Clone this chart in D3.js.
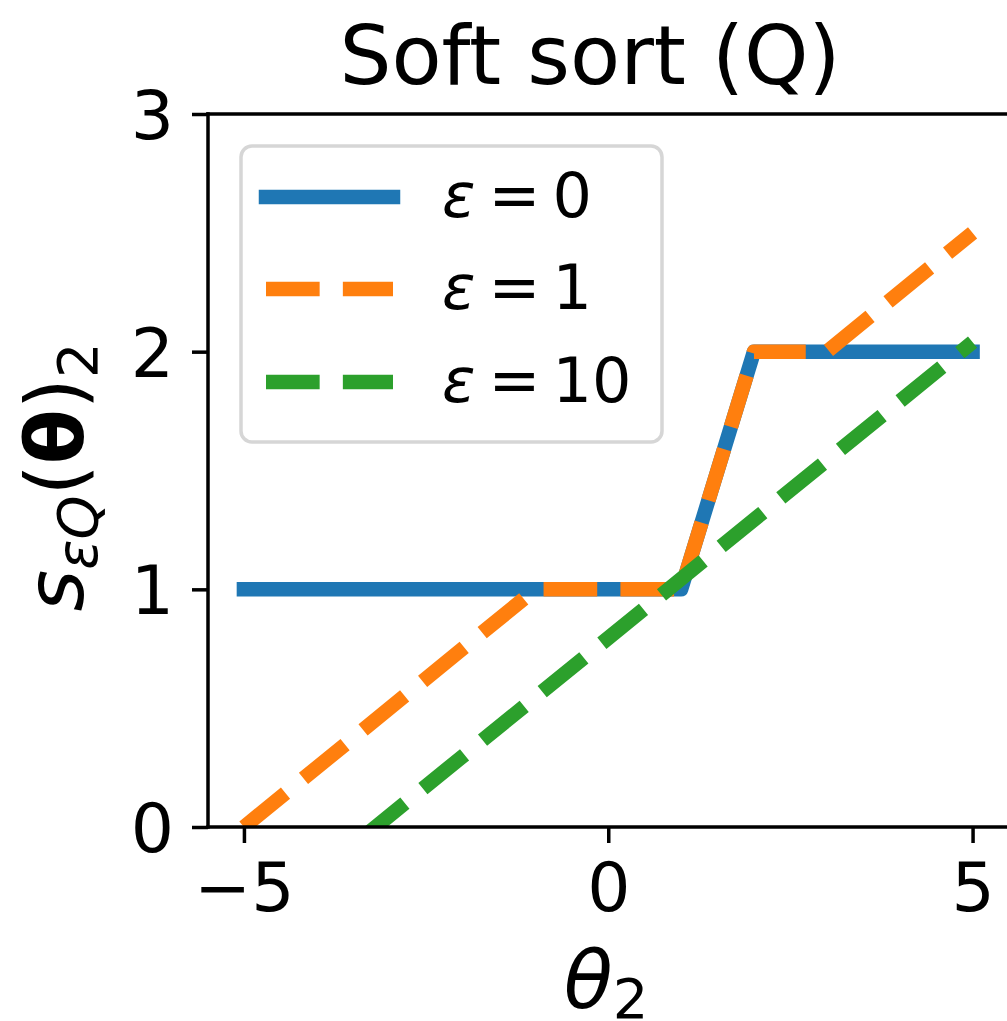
<!DOCTYPE html>
<html>
<head>
    <title>Soft sort (Q)</title>
    <script src="https://d3js.org/d3.v7.min.js"></script>
    <style>
        body {
            margin: 0;
            padding: 0;
            background: white;
        }
        svg text {
            font-family: "DejaVu Sans", sans-serif;
            fill: black;
        }
        .tick line {
            stroke: black;
            stroke-width: 3.5;
        }
        .tick text {
            font-size: 68px;
        }
        .spine {
            stroke: black;
            stroke-width: 3.5;
            stroke-linecap: square;
        }
    </style>
</head>
<body>
    <svg id="chart" width="1007" height="1021"></svg>
    <script>
        // tick values
        const xTicks = [-5, 0, 5];
        const yTicks = [0, 1, 2, 3];

        // series: regularisation strength and the curve
        const epsValues = [0, 1, 10];
        const colors = ['#1f77b4', '#ff7f0e', '#2ca02c'];
        const dashed = [false, true, true];

        const theta0 = [-5, 1, 2, 5];
        const s0 = [1, 1, 2, 2];
        const theta1 = [-5, -1, 1, 2, 3, 5];
        const s1 = [0, 1, 1, 2, 2, 2.5];
        const theta10 = [-5, 5];
        const s10 = [-0.45, 2.04];

        const series = [
            theta0.map((t, i) => [t, s0[i]]),
            theta1.map((t, i) => [t, s1[i]]),
            theta10.map((t, i) => [t, s10[i]])
        ];

        const svg = d3.select('#chart');
        const axL = 208, axR = 1009, axT = 114, axB = 827;
        const lw = 14.5;

        const x = d3.scaleLinear().domain([-5.5, 5.5]).range([axL - 0.5, axR]);
        const y = d3.scaleLinear().domain([0, 3]).range([axB, axT]);

        svg.append('clipPath').attr('id', 'plotArea')
            .append('rect')
            .attr('x', axL).attr('y', axT)
            .attr('width', axR - axL).attr('height', axB - axT);

        // lines
        const line = d3.line().x(d => x(d[0])).y(d => y(d[1]));
        const lines = svg.append('g').attr('clip-path', 'url(#plotArea)');
        series.forEach((data, i) => {
            lines.append('path')
                .datum(data)
                .attr('d', line)
                .attr('fill', 'none')
                .attr('stroke', colors[i])
                .attr('stroke-width', lw)
                .attr('stroke-linejoin', 'round')
                .attr('stroke-linecap', dashed[i] ? 'butt' : 'square')
                .attr('stroke-dasharray', dashed[i] ? `${3.7 * lw} ${1.6 * lw}` : null);
        });

        // axes
        const xAxis = svg.append('g')
            .attr('transform', `translate(0,${axB})`)
            .call(d3.axisBottom(x).tickValues(xTicks).tickSize(16).tickPadding(20).tickFormat(d3.format('d')));
        xAxis.select('.domain').remove();

        const yAxis = svg.append('g')
            .attr('transform', `translate(${axL},0)`)
            .call(d3.axisLeft(y).tickValues(yTicks).tickSize(16).tickPadding(18).tickFormat(d3.format('d')));
        yAxis.select('.domain').remove();
        yAxis.selectAll('.tick text').attr('dy', '0.36em');

        // spines (right one falls outside the picture)
        svg.append('line').attr('class', 'spine')
            .attr('x1', axL).attr('x2', axL).attr('y1', axT).attr('y2', axB);
        svg.append('line').attr('class', 'spine')
            .attr('x1', axL).attr('x2', axR).attr('y1', axB).attr('y2', axB);
        svg.append('line').attr('class', 'spine')
            .attr('x1', axL).attr('x2', axR).attr('y1', axT).attr('y2', axT);

        // title
        svg.append('text')
            .attr('x', 590)
            .attr('y', 84)
            .attr('text-anchor', 'middle')
            .style('font-size', '82px')
            .text('Soft sort (Q)');

        // x label: theta_2
        const xl = svg.append('text')
            .attr('x', 606)
            .attr('y', 1008)
            .attr('text-anchor', 'middle')
            .style('font-size', '80px');
        xl.append('tspan').style('font-style', 'italic').text('θ');
        xl.append('tspan').attr('dy', 10).style('font-size', '56px').text('2');

        // y label: s_{eps Q}(theta)_2
        const yl = svg.append('text')
            .attr('transform', 'translate(83,477) rotate(-90)')
            .attr('text-anchor', 'middle')
            .style('font-size', '80px');
        yl.append('tspan').style('font-style', 'italic').text('s');
        yl.append('tspan').attr('dy', 14).style('font-size', '56px').style('font-style', 'italic').text('εQ');
        yl.append('tspan').attr('dy', -14).text('(');
        yl.append('tspan').style('font-weight', 'bold').text('θ');
        yl.append('tspan').text(')');
        yl.append('tspan').attr('dy', 14).style('font-size', '56px').text('2');

        // legend
        const legend = svg.append('g');
        legend.append('rect')
            .attr('x', 241).attr('y', 146)
            .attr('width', 421).attr('height', 296)
            .attr('rx', 11)
            .attr('fill', 'white')
            .attr('fill-opacity', 0.8)
            .attr('stroke', '#d6d6d6')
            .attr('stroke-width', 3.5);

        const rowY = [197, 289, 382];
        epsValues.forEach((e, i) => {
            legend.append('line')
                .attr('x1', 266).attr('x2', 393)
                .attr('y1', rowY[i]).attr('y2', rowY[i])
                .attr('stroke', colors[i])
                .attr('stroke-width', lw)
                .attr('stroke-linecap', dashed[i] ? 'butt' : 'square')
                .attr('stroke-dasharray', dashed[i] ? `${3.7 * lw} ${1.6 * lw}` : null);
            const t = legend.append('text')
                .attr('x', 442)
                .attr('y', rowY[i] + 20)
                .style('font-size', '62px');
            t.append('tspan').style('font-style', 'italic').text('ε');
            t.append('tspan').attr('dx', 13).text('=');
            t.append('tspan').attr('dx', 12).text(e);
        });
    </script>
</body>
</html>
